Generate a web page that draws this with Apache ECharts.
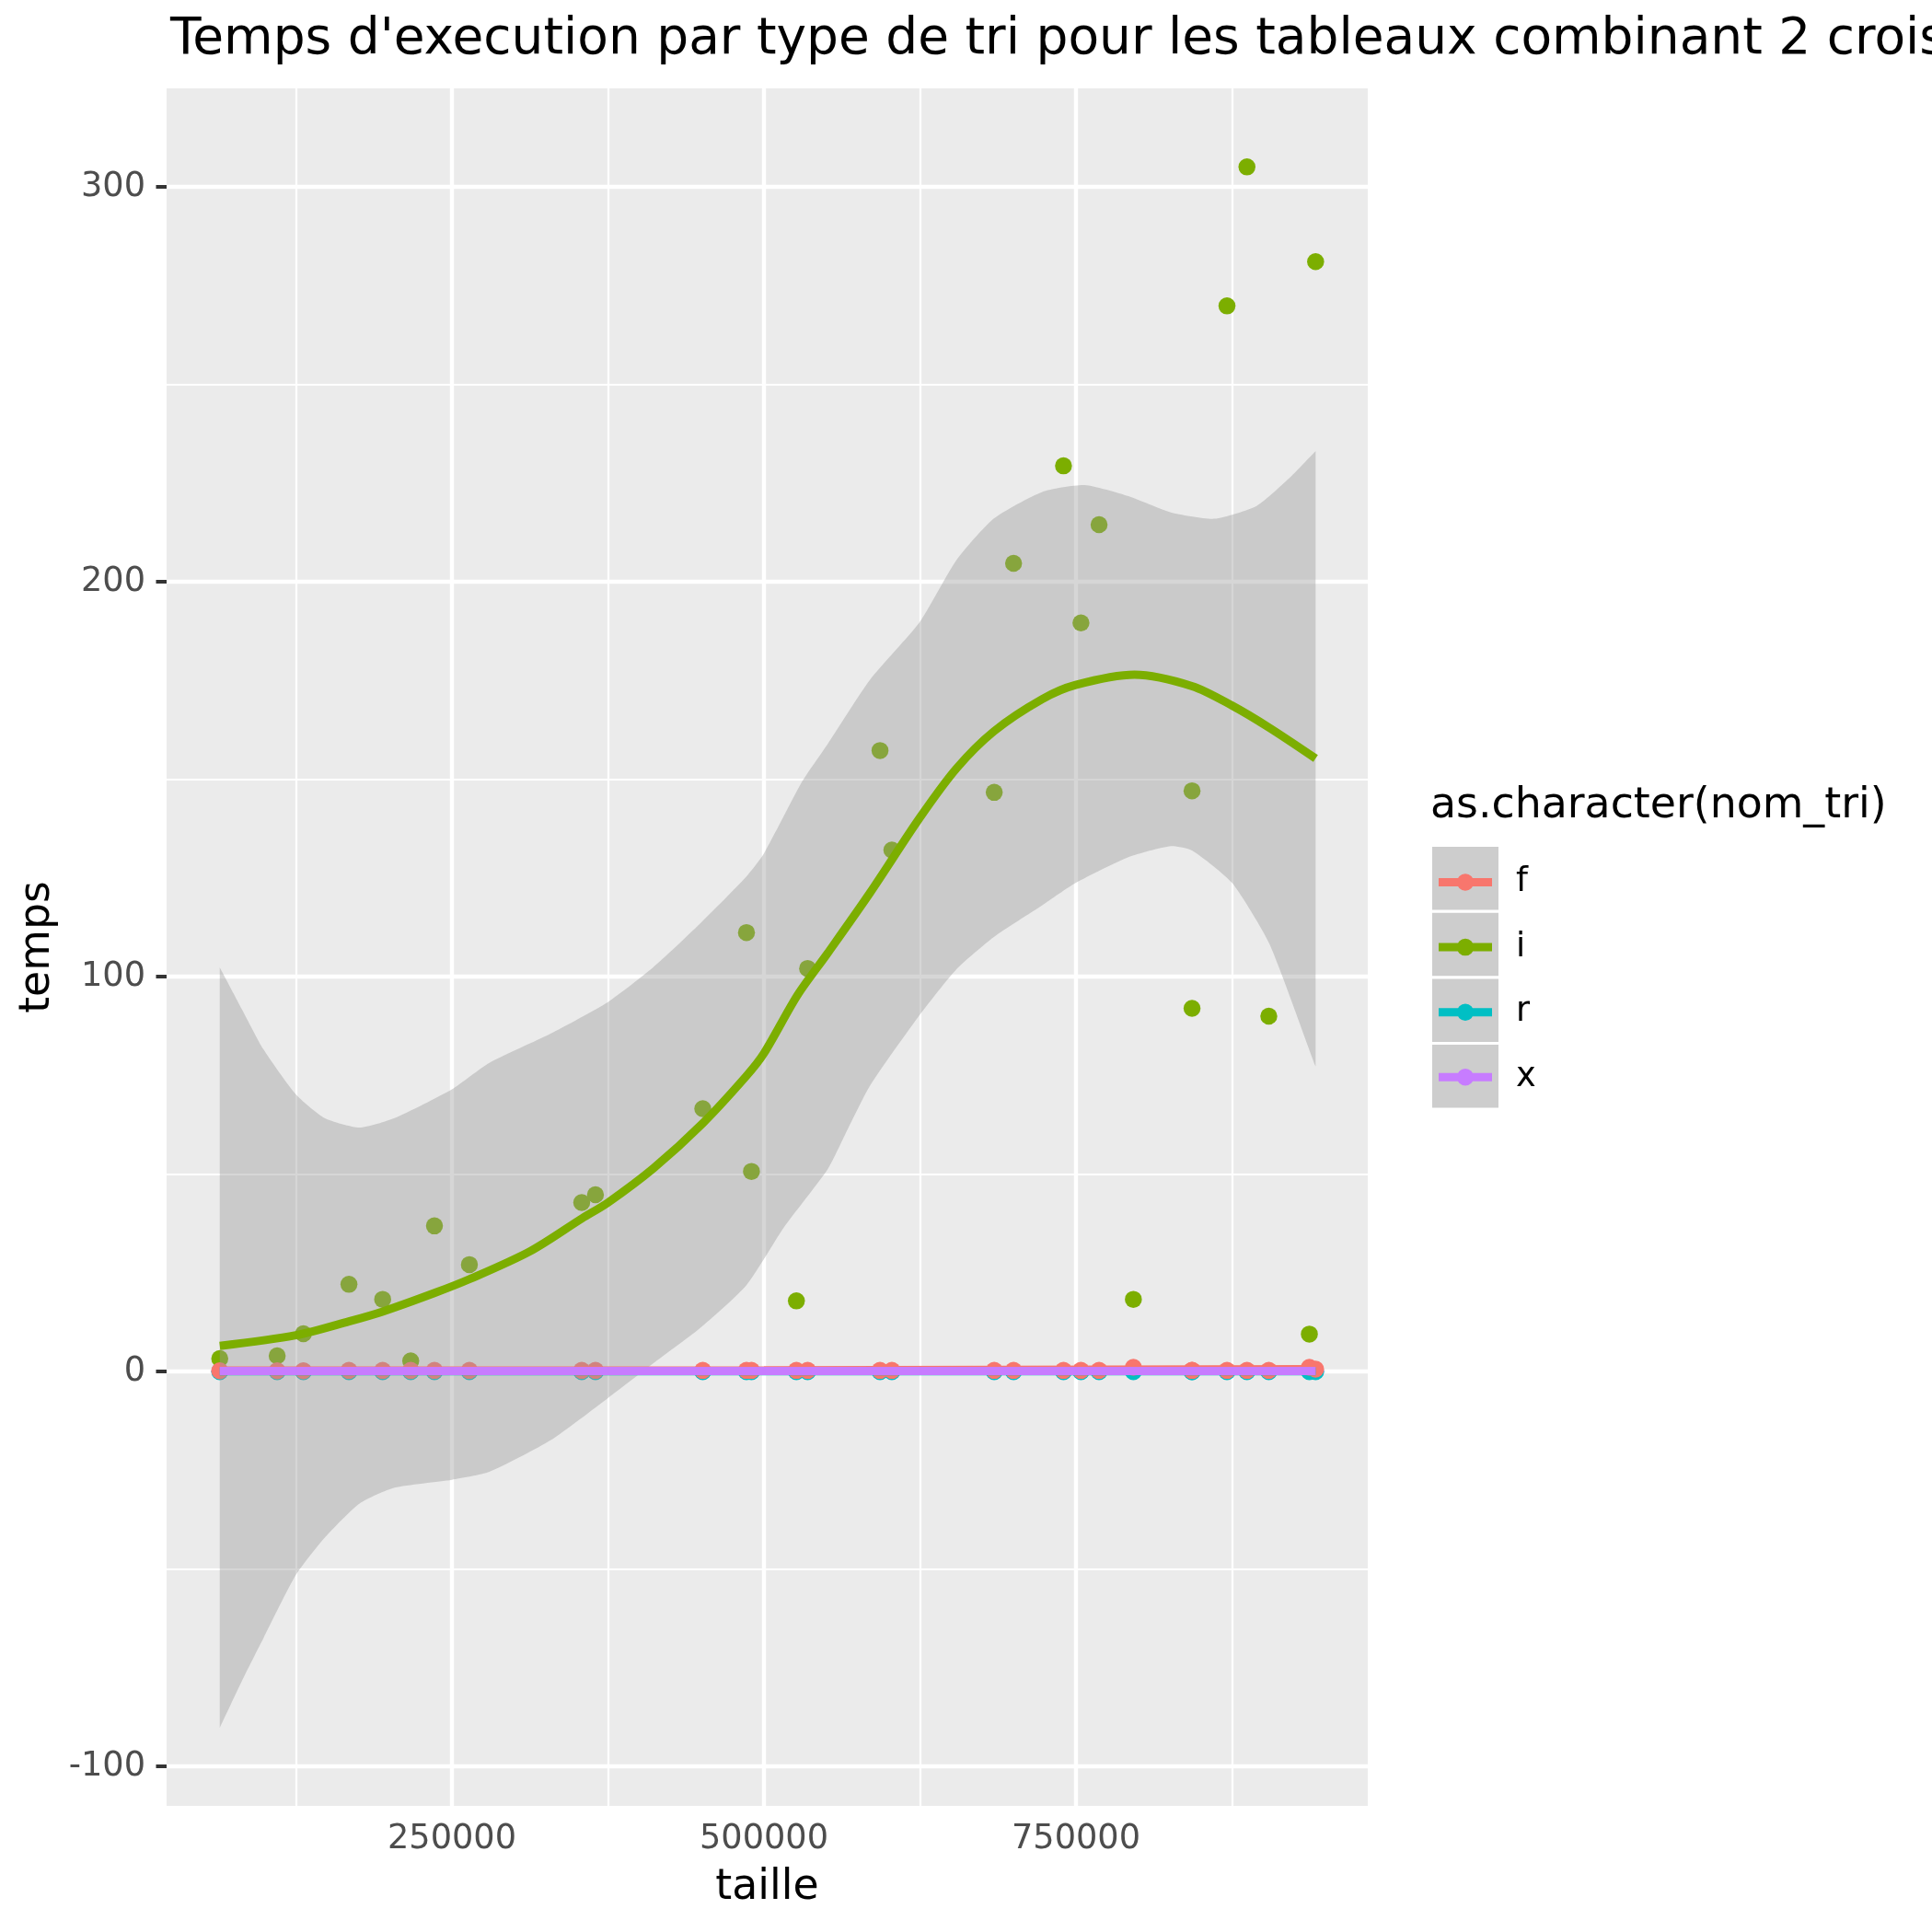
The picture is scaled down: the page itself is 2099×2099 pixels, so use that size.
<!DOCTYPE html>
<html>
<head>
    <meta charset="utf-8">
    <script src="https://cdn.jsdelivr.net/npm/echarts@6/dist/echarts.min.js"></script>
    <style>html, body { margin: 0; padding: 0; background: #fff; }</style>
</head>
<body>
    <div id="main" style="width: 2099px; height: 2099px;"></div>
    <script type="text/javascript">
        // tailles des tableaux (une mesure par taille et par tri)
        var taille = [64000, 110000, 131000, 167500, 194500, 217000, 236000, 264000, 354000, 365000,
                      451000, 486000, 490000, 526000, 535000, 593000, 602500, 684500, 700000, 740000,
                      754000, 768500, 796000, 843000, 843000, 871000, 887000, 904500, 937000, 942000];

        // temps mesures par tri
        var tempsF = [0.2, 0.2, 0.2, 0.3, 0.3, 0.3, 0.3, 0.3, 0.3, 0.3,
                      0.3, 0.3, 0.3, 0.3, 0.3, 0.3, 0.3, 0.3, 0.3, 0.3,
                      0.3, 0.3, 1.1, 0.3, 0.3, 0.3, 0.3, 0.3, 1.1, 0.6];
        var tempsI = [3.3, 4.0, 9.6, 22.1, 18.3, 2.7, 36.9, 27.1, 42.8, 44.8,
                      66.6, 111.2, 50.7, 17.9, 102.1, 157.3, 132.1, 146.7, 204.7, 229.4,
                      189.6, 214.5, 18.3, 147.1, 92.0, 269.9, 305.1, 90.0, 9.5, 281.1];
        var tempsR = [0.0, 0.0, 0.0, 0.0, 0.0, 0.0, 0.0, 0.0, 0.0, 0.0,
                      0.0, 0.0, 0.0, 0.0, 0.0, 0.0, 0.0, 0.0, 0.0, 0.0,
                      0.0, 0.0, 0.0, 0.0, 0.0, 0.0, 0.0, 0.0, 0.0, 0.0];
        var tempsX = [0.1, 0.1, 0.1, 0.1, 0.1, 0.1, 0.1, 0.1, 0.1, 0.1,
                      0.1, 0.1, 0.1, 0.1, 0.1, 0.1, 0.1, 0.1, 0.1, 0.1,
                      0.1, 0.1, 0.1, 0.1, 0.1, 0.1, 0.1, 0.1, 0.1, 0.1];

        // courbes lissees (loess)
        var lisseI = [[64000, 6.5], [125000, 9.2], [167500, 12.7], [194500, 15.2], [236000, 19.9],
                      [264000, 23.4], [312700, 30.5], [354200, 38.8], [375000, 42.8], [411500, 51.5],
                      [450700, 62.8], [486000, 74.9], [500000, 80.6], [526800, 95.3], [550900, 105.9],
                      [585300, 121.4], [624500, 140.1], [654100, 152.7], [684400, 162.2], [722900, 170.3],
                      [749800, 173.9], [796900, 176.5], [843000, 173.6], [875000, 168.7], [905300, 163.0],
                      [942000, 155.3]];
        var lisseF = [[64000, 0.25], [500000, 0.35], [942000, 0.6]];
        var lisseR = [[64000, 0.05], [942000, 0.05]];
        var lisseX = [[64000, 0.15], [942000, 0.15]];

        // intervalle de confiance du tri i
        var rubanHaut = [[64000, 102.3], [82000, 91.6], [99000, 81.6], [125000, 70.2], [148000, 64.2],
                         [176000, 61.8], [204000, 64.2], [250000, 71.5], [280000, 78.2], [329000, 85.6],
                         [375000, 93.6], [411000, 102.3], [448000, 113.2], [486000, 125.4], [500000, 131.2],
                         [530000, 149.1], [551000, 158.9], [585000, 175.2], [625000, 189.9], [654000, 205.4],
                         [684000, 216.0], [723000, 222.8], [757000, 224.5], [792000, 221.7], [826000, 217.6],
                         [861000, 216.0], [895000, 219.3], [922000, 226.6], [942000, 233.1]];
        var rubanBas = [[64000, -90.2], [82000, -78.2], [99000, -67.5], [125000, -51.5], [148000, -42.1],
                        [176000, -33.4], [204000, -29.4], [250000, -27.4], [280000, -25.4], [329000, -17.4],
                        [375000, -6.7], [411000, 2.0], [448000, 10.8], [486000, 21.9], [516000, 36.5],
                        [551000, 51.2], [565000, 60.0], [585000, 72.4], [625000, 90.4], [654000, 101.8],
                        [684000, 110.0], [723000, 118.1], [750000, 123.8], [792000, 130.3], [826000, 133.1],
                        [843000, 132.0], [875000, 123.8], [905000, 108.3], [942000, 77.3]];

        // graduations
        var ticksX = [250000, 500000, 750000];
        var ticksXMineur = [125000, 375000, 625000, 875000];
        var ticksY = [-100, 0, 100, 200, 300];
        var ticksYMineur = [-50, 50, 150, 250];

        var nomsTri = ['f', 'i', 'r', 'x'];
        var couleurs = {f: '#F8766D', i: '#7CAE00', r: '#00BFC4', x: '#C77CFF'};

        var police = 'DejaVu Sans';

        function paires(valeurs) {
            var res = [];
            for (var k = 0; k < taille.length; k++) {
                res.push([taille[k], valeurs[k]]);
            }
            return res;
        }

        function nuage(nom, valeurs, z) {
            return {
                name: nom,
                type: 'scatter',
                data: paires(valeurs),
                symbolSize: 18.5,
                itemStyle: {color: couleurs[nom], opacity: 1},
                z: z
            };
        }

        function courbe(nom, points, z) {
            return {
                name: nom,
                type: 'line',
                data: points,
                smooth: 0.3,
                showSymbol: false,
                symbol: 'none',
                lineStyle: {color: couleurs[nom], width: 8.9},
                itemStyle: {color: couleurs[nom]},
                z: z
            };
        }

        var grilleMarques = [];
        ticksYMineur.forEach(function (v) { grilleMarques.push({yAxis: v, lineStyle: {width: 2.2}}); });
        ticksXMineur.forEach(function (v) { grilleMarques.push({xAxis: v, lineStyle: {width: 2.2}}); });
        ticksY.forEach(function (v) { grilleMarques.push({yAxis: v, lineStyle: {width: 4.4}}); });
        ticksX.forEach(function (v) { grilleMarques.push({xAxis: v, lineStyle: {width: 4.4}}); });

        // fonds gris des cles de legende
        var fondsLegende = [];
        for (var c = 0; c < nomsTri.length; c++) {
            fondsLegende.push({
                type: 'rect',
                shape: {x: 1556, y: 920 + c * 71.7, width: 72, height: 68.5},
                style: {fill: '#CDCDCD'},
                z: 1
            });
        }

        var myChart = echarts.init(document.getElementById('main'));

        var option = {
            animation: false,
            backgroundColor: '#ffffff',
            title: {
                text: "Temps d'execution par type de tri pour les tableaux combinant 2 croissants",
                left: 185,
                top: 16,
                padding: 0,
                textStyle: {fontFamily: police, fontSize: 55, fontWeight: 'normal', color: '#000000'}
            },
            grid: {
                left: 181, right: 613, top: 96, bottom: 137,
                show: true, backgroundColor: '#EBEBEB', borderWidth: 0
            },
            legend: {
                data: nomsTri,
                orient: 'vertical',
                left: 1563,
                top: 940,
                padding: 0,
                itemWidth: 58,
                itemHeight: 18.5,
                itemGap: 33.6,
                selectedMode: false,
                icon: 'path://M0,4.75h58v9h-58z M19.75,9.25a9.25,9.25 0 1,1 18.5,0a9.25,9.25 0 1,1 -18.5,0z',
                textStyle: {fontFamily: police, fontSize: 36.7, color: '#000000', padding: [0, 0, 0, 21]}
            },
            graphic: fondsLegende.concat([
                {
                    type: 'text', x: 1554, y: 876,
                    style: {text: 'as.character(nom_tri)', font: '45.8px "DejaVu Sans"', fill: '#000000',
                            verticalAlign: 'middle', align: 'left'}
                }
            ]),
            xAxis: {
                type: 'value',
                min: 21400,
                max: 983800,
                name: 'taille',
                nameLocation: 'middle',
                nameGap: 66,
                nameTextStyle: {fontFamily: police, fontSize: 45.8, color: '#000000'},
                axisLine: {show: false},
                splitLine: {show: false},
                axisTick: {show: true, customValues: ticksX, length: 11.5, lineStyle: {color: '#333333', width: 4}},
                axisLabel: {
                    customValues: ticksX, margin: 18,
                    fontFamily: police, fontSize: 36.7, color: '#4D4D4D',
                    formatter: function (v) { return String(v); }
                }
            },
            yAxis: {
                type: 'value',
                min: -110,
                max: 325,
                name: 'temps',
                nameLocation: 'middle',
                nameRotate: 90,
                nameGap: 117,
                nameTextStyle: {fontFamily: police, fontSize: 45.8, color: '#000000'},
                axisLine: {show: false},
                splitLine: {show: false},
                axisTick: {show: true, customValues: ticksY, length: 11.5, lineStyle: {color: '#333333', width: 4}},
                axisLabel: {
                    customValues: ticksY, margin: 23,
                    fontFamily: police, fontSize: 36.7, color: '#4D4D4D',
                    formatter: function (v) { return String(v); }
                }
            },
            series: [
                {
                    name: 'grille',
                    type: 'line',
                    data: [],
                    silent: true,
                    z: 1,
                    markLine: {
                        silent: true,
                        symbol: 'none',
                        z: 1,
                        label: {show: false},
                        lineStyle: {color: '#ffffff', type: 'solid'},
                        emphasis: {disabled: true},
                        data: grilleMarques
                    }
                },
                nuage('x', tempsX, 10),
                nuage('r', tempsR, 11),
                nuage('i', tempsI, 12),
                nuage('f', tempsF, 13),
                {
                    name: 'ruban',
                    type: 'custom',
                    silent: true,
                    z: 14,
                    data: [rubanHaut[0]],
                    renderItem: function (params, api) {
                        var haut = rubanHaut.map(function (p) { return api.coord(p); });
                        var bas = rubanBas.map(function (p) { return api.coord(p); });
                        var nH = haut.length - 1, nB = bas.length - 1;
                        var pts = haut.slice();
                        // bords verticaux gardes droits malgre le lissage
                        pts.push([haut[nH][0], haut[nH][1] + 2]);
                        pts.push([bas[nB][0], bas[nB][1] - 2]);
                        for (var k = nB; k >= 0; k--) {
                            pts.push(bas[k]);
                        }
                        pts.push([bas[0][0], bas[0][1] - 2]);
                        pts.push([haut[0][0], haut[0][1] + 2]);
                        return {
                            type: 'polygon',
                            shape: {points: pts, smooth: 0.2},
                            style: {fill: 'rgba(153,153,153,0.4)'}
                        };
                    }
                },
                courbe('f', lisseF, 15),
                courbe('i', lisseI, 16),
                courbe('r', lisseR, 17),
                courbe('x', lisseX, 18)
            ]
        };

        myChart.setOption(option);
    </script>
</body>
</html>
